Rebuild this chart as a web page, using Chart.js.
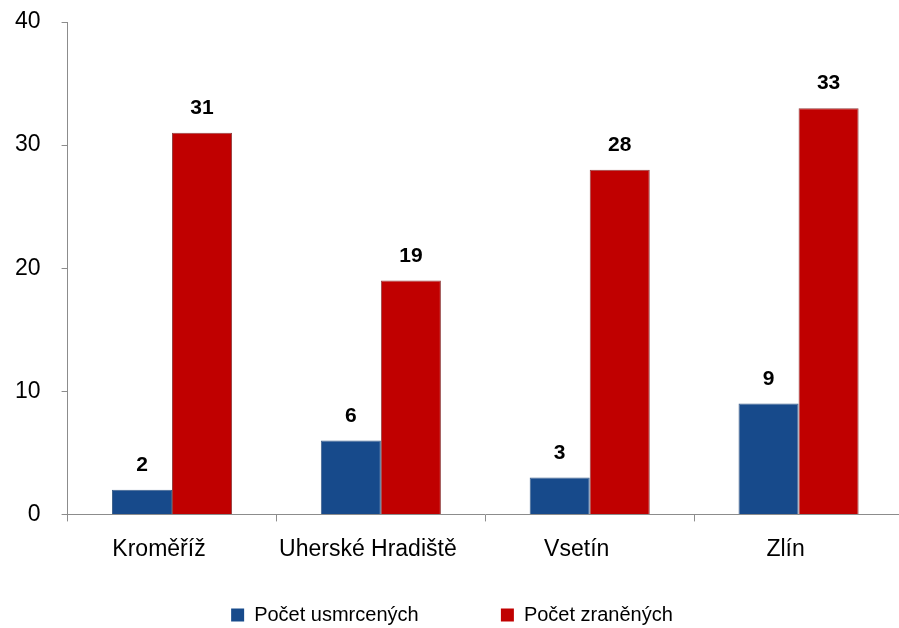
<!DOCTYPE html>
<html>
<head>
<meta charset="utf-8">
<script src="https://cdn.jsdelivr.net/npm/chart.js@4/dist/chart.umd.min.js"></script>
<style>
  html, body { margin: 0; padding: 0; background: #fff; overflow: hidden; }
  /* the original is cropped a little on the right, so the canvas is wider than the window */
  #wrap { width: 899px; height: 628px; overflow: hidden; }
</style>
</head>
<body>
<div id="wrap"><canvas id="chart" width="903" height="628"></canvas></div>
<script>
// Okresy and counts
const districts = ['Kroměříž', 'Uherské Hradiště', 'Vsetín', 'Zlín'];
const killed = [2, 6, 3, 9];
const injured = [31, 19, 28, 33];
const yTicks = [0, 10, 20, 30, 40];

const FONT = '"Liberation Sans", Arial, sans-serif';

// draws the bold numbers above each bar
const valueLabels = {
    id: 'valueLabels',
    afterDatasetsDraw(chart) {
        const ctx = chart.ctx;
        ctx.save();
        ctx.font = 'bold 21px ' + FONT;
        ctx.fillStyle = '#000';
        ctx.textAlign = 'center';
        ctx.textBaseline = 'bottom';
        chart.data.datasets.forEach((ds, i) => {
            chart.getDatasetMeta(i).data.forEach((bar, j) => {
                ctx.fillText(ds.data[j], bar.x, bar.y - 14);
            });
        });
        ctx.restore();
    }
};

new Chart(document.getElementById('chart'), {
    type: 'bar',
    data: {
        labels: districts,
        datasets: [{
            label: 'Počet usmrcených',
            data: killed,
            backgroundColor: '#174A8B',
            borderColor: '#3D5F8A',
            borderWidth: 1,
            categoryPercentage: 0.575,
            barPercentage: 1
        }, {
            label: 'Počet zraněných',
            data: injured,
            backgroundColor: '#C00000',
            borderColor: '#944040',
            borderWidth: 1,
            categoryPercentage: 0.575,
            barPercentage: 1
        }]
    },
    options: {
        responsive: false,
        animation: false,
        layout: { autoPadding: false, padding: { top: 22, left: 1, right: 0, bottom: -7 } },
        plugins: {
            tooltip: { enabled: false },
            legend: {
                position: 'bottom',
                labels: {
                    font: { family: FONT, size: 20 },
                    color: '#000',
                    boxWidth: 13,
                    boxHeight: 13,
                    padding: 10,
                    // trailing spaces keep the wide gap between the two entries
                    generateLabels: (chart) => chart.data.datasets.map((ds, i) => ({
                        text: i === 0 ? ds.label + '\u00a0'.repeat(13) : ds.label,
                        fillStyle: ds.backgroundColor,
                        strokeStyle: ds.backgroundColor,
                        lineWidth: 0,
                        datasetIndex: i
                    }))
                }
            }
        },
        scales: {
            x: {
                afterFit: (scale) => { scale.height += 18; },
                grid: {
                    display: true,
                    drawOnChartArea: false,
                    offset: true,
                    tickLength: 7,
                    color: '#8C8C8C'
                },
                border: { color: '#8C8C8C', width: 1 },
                ticks: {
                    font: { family: FONT, size: 23 },
                    color: '#000',
                    padding: 14,
                    labelOffset: -13
                }
            },
            y: {
                min: 0,
                max: 40,
                afterBuildTicks: (axis) => { axis.ticks = yTicks.map(v => ({ value: v })); },
                // the tick padding should not push the plot down from the top
                afterFit: (scale) => {
                    scale.paddingTop = 0;
                    scale.paddingBottom = 0;
                    scale.width -= 7;
                },
                grid: {
                    display: true,
                    drawOnChartArea: false,
                    tickLength: 6,
                    color: '#8C8C8C'
                },
                border: { color: '#8C8C8C', width: 1 },
                ticks: {
                    font: { family: FONT, size: 23 },
                    color: '#000',
                    padding: 21
                }
            }
        }
    },
    plugins: [valueLabels]
});
</script>
</body>
</html>
